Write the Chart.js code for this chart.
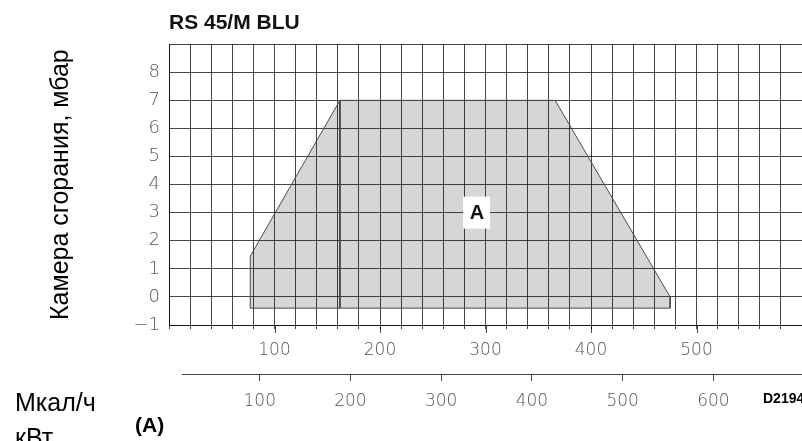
<!DOCTYPE html>
<html>
<head>
<meta charset="utf-8">
<script src="https://cdn.jsdelivr.net/npm/chart.js@4/dist/chart.umd.min.js"></script>
<style>
  html, body { margin: 0; padding: 0; background: #fff; }
  #wrap { width: 802px; height: 441px; }
</style>
</head>
<body>
<div id="wrap"><canvas id="rangeChart" width="802" height="441"></canvas></div>
<script>
// рабочее поле горелки RS 45/M BLU
const rangeMcal = [77, 77, 162, 366, 475, 475, 77];      // Мкал/ч
const rangeMbar = [-0.4, 1.45, 7, 7, 0, -0.4, -0.4];     // мбар
const splitMcal = [162, 162];
const splitMbar = [7, -0.4];
const mcalLabels = [100, 200, 300, 400, 500];
const kwLabels = [100, 200, 300, 400, 500, 600];
const mbarLabels = [-1, 0, 1, 2, 3, 4, 5, 6, 7, 8];
const areaLabel = { text: 'A', x: 292, y: 3 };
const KW_TO_MCAL = 0.86;

const MCAL_MAX = 600;
const gridColor = 'rgba(0,0,0,0.72)';
const tickFont = { family: 'DejaVu Sans', size: 17, weight: 200 };
const tickColor = '#555';

function toPoints(xs, ys) {
    return xs.map((x, i) => ({ x: x, y: ys[i] }));
}

// без лишнего отступа справа под подписи
function noSidePadding(s) {
    s.paddingLeft = 0;
    s.paddingRight = 0;
}

// надписи вне осей и подпись области
const extrasPlugin = {
    id: 'extras',
    afterDraw(chart) {
        const ctx = chart.ctx;
        const x = chart.scales.x;
        const x2 = chart.scales.x2;
        const y = chart.scales.y;
        ctx.save();

        ctx.strokeStyle = gridColor;
        ctx.lineWidth = 1;
        // длинные риски на сотнях
        mcalLabels.forEach(v => {
            const px = Math.round(x.getPixelForValue(v)) + 0.5;
            ctx.beginPath();
            ctx.moveTo(px, x.top);
            ctx.lineTo(px, x.top + 8);
            ctx.stroke();
        });
        // линия шкалы кВт
        ctx.beginPath();
        ctx.moveTo(x2.getPixelForValue(14), x2.top + 0.5);
        ctx.lineTo(chart.width, x2.top + 0.5);
        ctx.stroke();

        // подпись A на белом фоне
        const ax = x.getPixelForValue(areaLabel.x);
        const ay = y.getPixelForValue(areaLabel.y);
        ctx.fillStyle = '#fff';
        ctx.fillRect(ax - 14, ay - 16, 27, 32);
        ctx.fillStyle = '#111';
        ctx.font = 'bold 20px "Liberation Sans"';
        ctx.textAlign = 'center';
        ctx.textBaseline = 'middle';
        ctx.fillText(areaLabel.text, ax, ay + 1);

        ctx.textAlign = 'left';
        ctx.textBaseline = 'alphabetic';
        ctx.fillStyle = '#000';
        ctx.font = '25px "Liberation Sans"';
        ctx.fillText('Мкал/ч', 15, 411);
        ctx.fillText('кВт', 15, 446);
        ctx.font = 'bold 21px "Liberation Sans"';
        ctx.fillText('(A)', 135, 432);
        ctx.font = 'bold 14px "Liberation Sans"';
        ctx.fillText('D2194', 763, 403);
        ctx.restore();
    }
};

const ctx = document.getElementById('rangeChart').getContext('2d');
new Chart(ctx, {
    type: 'scatter',
    data: {
        datasets: [{
            data: toPoints(rangeMcal, rangeMbar),
            showLine: true,
            borderColor: '#4a4a4a',
            borderWidth: 1,
            backgroundColor: 'rgba(0,0,0,0.16)',
            fill: 'shape',
            pointRadius: 0,
            tension: 0
        }, {
            data: toPoints(splitMcal, splitMbar),
            showLine: true,
            borderColor: '#4a4a4a',
            borderWidth: 1,
            pointRadius: 0,
            fill: false
        }]
    },
    options: {
        responsive: false,
        animation: false,
        devicePixelRatio: 1,
        layout: { padding: 0 },
        plugins: {
            legend: { display: false },
            tooltip: { enabled: false },
            title: {
                display: true,
                text: 'RS 45/M BLU',
                align: 'start',
                fullSize: false,
                color: '#111',
                font: { family: 'Liberation Sans', size: 21, weight: 'bold' },
                padding: { top: 11, bottom: 8 }
            }
        },
        scales: {
            x: {
                type: 'linear',
                position: 'bottom',
                weight: 0,
                min: 0,
                max: MCAL_MAX,
                afterFit: s => { s.height = 49; noSidePadding(s); },
                grid: { color: gridColor, tickColor: gridColor, tickLength: 4, lineWidth: 1 },
                border: { color: gridColor },
                ticks: {
                    stepSize: 20,
                    autoSkip: false,
                    maxRotation: 0,
                    padding: 11,
                    color: tickColor,
                    font: tickFont,
                    callback: v => mcalLabels.includes(v) ? String(v) : ''
                }
            },
            x2: {
                type: 'linear',
                position: 'bottom',
                weight: 1,
                min: 0,
                max: MCAL_MAX / KW_TO_MCAL,
                afterBuildTicks: s => { s.ticks = kwLabels.map(v => ({ value: v })); },
                afterFit: s => { s.height = 67; noSidePadding(s); },
                grid: { drawOnChartArea: false, tickLength: 7, tickColor: gridColor },
                border: { display: false },
                ticks: {
                    autoSkip: false,
                    maxRotation: 0,
                    padding: 10,
                    color: tickColor,
                    font: tickFont,
                    callback: v => String(v)
                }
            },
            y: {
                type: 'linear',
                min: -1,
                max: 9,
                afterFit: s => { s.width = 169; },
                grid: { color: gridColor, drawTicks: false, lineWidth: 1 },
                border: { color: gridColor },
                ticks: {
                    stepSize: 1,
                    padding: 9,
                    color: tickColor,
                    font: { family: 'DejaVu Sans', size: 18, weight: 200 },
                    callback: v => mbarLabels.includes(v) ? (v < 0 ? '\u2212' + Math.abs(v) : String(v)) : ''
                },
                title: {
                    display: true,
                    text: 'Камера сгорания, мбар',
                    color: '#000',
                    font: { family: 'Liberation Sans', size: 25 },
                    padding: { top: 46, bottom: 0 }
                }
            }
        }
    },
    plugins: [extrasPlugin]
});
</script>
</body>
</html>
